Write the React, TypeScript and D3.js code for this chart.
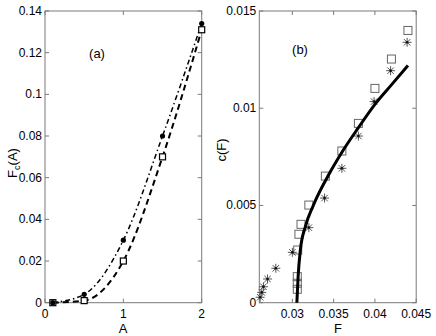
import * as d3 from "d3";

const W = 436;
const H = 336;

// panel (a)
const aValues = [0.1, 0.5, 1, 1.5, 2];
const fcDots = [0, 0.004, 0.03, 0.08, 0.134];
const fcSquares = [0, 0.001, 0.02, 0.07, 0.131];
const aXTicks = [0, 1, 2];
const aYTicks = [0, 0.02, 0.04, 0.06, 0.08, 0.1, 0.12, 0.14];
const aYLabels = ["0", "0.02", "0.04", "0.06", "0.08", "0.1", "0.12", "0.14"];

// panel (b)
const sqF = [0.044, 0.042, 0.04, 0.038, 0.036, 0.034, 0.032, 0.03105, 0.0308, 0.03065, 0.0306, 0.0306, 0.0306];
const sqC = [0.0140, 0.01253, 0.01102, 0.00922, 0.0078, 0.00651, 0.00502, 0.00403, 0.00352, 0.00271, 0.00134, 0.001, 0.00069];
const starF = [0.0439, 0.0419, 0.0399, 0.038, 0.036, 0.0339, 0.032, 0.03, 0.028, 0.027, 0.0265, 0.0263, 0.0261];
const starC = [0.01339, 0.01193, 0.01034, 0.00857, 0.00691, 0.00538, 0.00386, 0.00259, 0.00177, 0.00122, 0.00082, 0.00053, 0.00028];
const fitF = [0.03055, 0.0307, 0.03097, 0.03157, 0.03254, 0.0343, 0.0361, 0.038, 0.04, 0.042, 0.044];
const fitC = [0, 0.00134, 0.0027, 0.0039, 0.005, 0.0065, 0.0078, 0.009, 0.0102, 0.0112, 0.0122];
const bXTicks = [0.03, 0.035, 0.04, 0.045];
const bXLabels = ["0.03", "0.035", "0.04", "0.045"];
const bYTicks = [0, 0.005, 0.01, 0.015];
const bYLabels = ["0", "0.005", "0.01", "0.015"];

const font = "Liberation Sans, Arial, sans-serif";
const axisColor = "#7a7a7a";
const top = 11;
const bottom = 302.7;

const xa = d3.scaleLinear().domain([0, 2]).range([45, 201.7]);
const ya = d3.scaleLinear().domain([0, 0.14]).range([bottom, top]);
const xb = d3.scaleLinear().domain([0.026, 0.045]).range([259.3, 416.2]);
const yb = d3.scaleLinear().domain([0, 0.015]).range([bottom, top]);

function Frame({ x, y, xTicks, xLabels, yTicks, yLabels }: any) {
  const [x0, x1] = x.range();
  const [y0, y1] = y.range();
  return (
    <g>
      <rect x={x0} y={y1} width={x1 - x0} height={y0 - y1} fill="none" stroke={axisColor} strokeWidth={1} />
      {xTicks.map((t: number, i: number) => (
        <g key={"x" + i}>
          <line x1={x(t)} x2={x(t)} y1={y0} y2={y0 - 4} stroke={axisColor} />
          <line x1={x(t)} x2={x(t)} y1={y1} y2={y1 + 4} stroke={axisColor} />
          <text x={x(t)} y={y0 + 15} textAnchor="middle" fontSize={12} fontFamily={font}>
            {xLabels[i]}
          </text>
        </g>
      ))}
      {yTicks.map((t: number, i: number) => (
        <g key={"y" + i}>
          <line x1={x0} x2={x0 + 4} y1={y(t)} y2={y(t)} stroke={axisColor} />
          <line x1={x1} x2={x1 - 4} y1={y(t)} y2={y(t)} stroke={axisColor} />
          <text x={x0 - 3} y={y(t) + 4} textAnchor="end" fontSize={12} fontFamily={font}>
            {yLabels[i]}
          </text>
        </g>
      ))}
    </g>
  );
}

function Star({ cx, cy }: { cx: number; cy: number }) {
  const r = 4.5;
  const d = r * 0.72;
  return (
    <g stroke="#555" strokeWidth={1}>
      <line x1={cx - r} x2={cx + r} y1={cy} y2={cy} />
      <line x1={cx} x2={cx} y1={cy - r} y2={cy + r} />
      <line x1={cx - d} x2={cx + d} y1={cy - d} y2={cy + d} />
      <line x1={cx - d} x2={cx + d} y1={cy + d} y2={cy - d} />
      <circle cx={cx} cy={cy} r={1.3} fill="#111" stroke="none" />
    </g>
  );
}

export default function App() {
  const lineA = d3
    .line<number>()
    .x((_, i) => xa(aValues[i]))
    .curve(d3.curveMonotoneX);
  const dotsPath = lineA.y((v) => ya(v))(fcDots) || "";
  const sqPath = lineA.y((v) => ya(v))(fcSquares) || "";
  const fitPath =
    d3
      .line<number>()
      .x((_, i) => xb(fitF[i]))
      .y((v) => yb(v))
      .curve(d3.curveMonotoneX)(fitC) || "";

  return (
    <svg width={W} height={H} style={{ position: "absolute", left: 0, top: 0, background: "#fff" }}>
      {/* panel (a) */}
      <Frame x={xa} y={ya} xTicks={aXTicks} xLabels={["0", "1", "2"]} yTicks={aYTicks} yLabels={aYLabels} />
      <path d={dotsPath} fill="none" stroke="#000" strokeWidth={1.5} strokeDasharray="5 3 1.5 3" />
      <path d={sqPath} fill="none" stroke="#000" strokeWidth={2} strokeDasharray="6 4" />
      {aValues.map((a, i) => (
        <rect key={"s" + i} x={xa(a) - 3} y={ya(fcSquares[i]) - 3} width={6} height={6} fill="#fff" stroke="#000" strokeWidth={1.2} />
      ))}
      {aValues.map((a, i) => (
        <circle key={"d" + i} cx={xa(a)} cy={ya(fcDots[i])} r={2.6} fill="#000" />
      ))}
      <text x={97} y={58} textAnchor="middle" fontSize={13} fontFamily={font}>(a)</text>
      <text x={123} y={333} textAnchor="middle" fontSize={13} fontFamily={font}>A</text>
      <text transform="translate(17,163) rotate(-90)" textAnchor="middle" fontSize={13} fontFamily={font}>
        F<tspan fontSize={9} dy={3}>c</tspan>
        <tspan dy={-3}>(A)</tspan>
      </text>

      {/* panel (b) */}
      <Frame x={xb} y={yb} xTicks={bXTicks} xLabels={bXLabels} yTicks={bYTicks} yLabels={bYLabels} />
      {sqF.map((f, i) => (
        <rect key={"bs" + i} x={xb(f) - 4} y={yb(sqC[i]) - 4} width={8} height={8} fill="none" stroke="#666" strokeWidth={1} />
      ))}
      {starF.map((f, i) => (
        <Star key={"st" + i} cx={xb(f)} cy={yb(starC[i])} />
      ))}
      <path d={fitPath} fill="none" stroke="#000" strokeWidth={3} />
      <text x={300} y={54} textAnchor="middle" fontSize={13} fontFamily={font}>(b)</text>
      <text x={338} y={333} textAnchor="middle" fontSize={13} fontFamily={font}>F</text>
      <text transform="translate(226,150) rotate(-90)" textAnchor="middle" fontSize={13} fontFamily={font}>c(F)</text>
    </svg>
  );
}
